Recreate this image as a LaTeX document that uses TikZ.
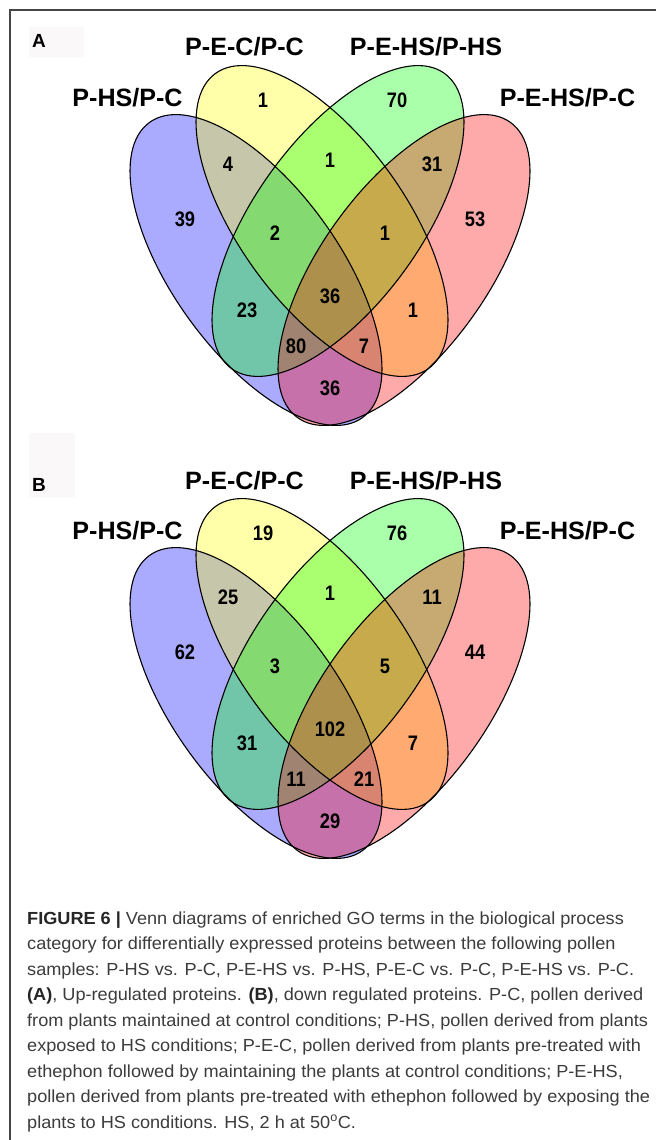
\documentclass[tikz,border=0pt]{standalone}
\usepackage{fontspec}
\setmainfont{Liberation Sans}
\usepackage{graphicx}

\definecolor{setblue}{RGB}{0,0,255}
\definecolor{setyellow}{RGB}{255,255,0}
\definecolor{setgreen}{RGB}{0,255,0}
\definecolor{setred}{RGB}{255,0,0}
\definecolor{framegray}{RGB}{70,70,70}
\definecolor{tagbg}{RGB}{250,248,248}
\definecolor{captext}{RGB}{60,60,60}

% caption lines are scaled so that the longest one spans 623pt
\newlength\capwd
\AtBeginDocument{%
  \settowidth\capwd{\fontsize{17.5}{21}\selectfont pollen derived from plants pre-treated with ethephon followed by exposing the}%
  \pgfmathsetmacro\capfac{623/\capwd}%
}

\tikzset{
  setfill/.style={fill=#1, fill opacity=0.333},
  setline/.style={draw=black, line width=1.1pt},
  setlab/.style={anchor=base, inner sep=0pt, font=\bfseries\fontsize{25.1}{30}\selectfont},
  count/.style={inner sep=0pt, font=\bfseries\fontsize{21}{25}\selectfont},
  tag/.style={anchor=base west, inner sep=0pt, font=\bfseries\fontsize{19}{23}\selectfont},
  capline/.style={anchor=base west, inner sep=0pt, text=captext, font=\fontsize{17.5}{21}\selectfont},
  % four-set Venn diagram: ellipses, outlines and set names
  vennsets/.pic={
    \path[setfill=setblue,   rotate around={-54.2:(256,270)}] (256,270) ellipse [x radius=182pt, y radius=83pt];
    \path[setfill=setyellow, rotate around={-54.2:(322,221)}] (322,221) ellipse [x radius=182pt, y radius=83pt];
    \path[setfill=setgreen,  rotate around={54.2:(338,221)}]  (338,221) ellipse [x radius=182pt, y radius=83pt];
    \path[setfill=setred,    rotate around={54.2:(404,270)}]  (404,270) ellipse [x radius=182pt, y radius=83pt];
    \draw[setline, rotate around={-54.2:(256,270)}] (256,270) ellipse [x radius=182pt, y radius=83pt];
    \draw[setline, rotate around={-54.2:(322,221)}] (322,221) ellipse [x radius=182pt, y radius=83pt];
    \draw[setline, rotate around={54.2:(338,221)}]  (338,221) ellipse [x radius=182pt, y radius=83pt];
    \draw[setline, rotate around={54.2:(404,270)}]  (404,270) ellipse [x radius=182pt, y radius=83pt];
    \node[setlab] (-phs)   at (127.5,106) {P-HS/P-C};
    \node[setlab] (-pec)   at (244.5,56)  {P-E-C/P-C};
    \node[setlab] (-pehs)  at (426,56)    {P-E-HS/P-HS};
    \node[setlab] (-pehsc) at (567.5,106) {P-E-HS/P-C};
  }
}

\begin{document}
\begin{tikzpicture}[x=1pt,y=-1pt]
\useasboundingbox (0,0) rectangle (656,1140);
\fill[white] (0,0) rectangle (656,1140);

% frame
\draw[framegray, line width=1.3pt] (656,10) -- (10,10) -- (10,1140);

% panel A
\fill[tagbg] (29,27) rectangle (84,57);
\node[tag] (tagA) at (32,47.5) {A};
\pic (A) at (0,0) {vennsets};
\foreach \n/\x/\y/\v in {y/263/100/1, g/397/100/70, by/228/164/4, gp/432/164/31,
    yg/330/160/1, b/185/219/39, p/475/219/53, byg/275/233/2, ygp/385/233/1,
    all/330/296/36, bg/247/310/23, yp/413/310/1, bgp/296/346/80, byp/364/346/7,
    bp/330/388/36}
  \node[count] (A-\n) at (\x,\y) {\scalebox{0.87}[1]{\v}};

% panel B
\fill[tagbg] (29,433) rectangle (75,497);
\node[tag] (tagB) at (32,491) {B};
\pic (B) at (0,433) {vennsets};
\foreach \n/\x/\y/\v in {y/263/100/19, g/397/100/76, by/228/164/25, gp/432/164/11,
    yg/330/160/1, b/185/219/62, p/475/219/44, byg/275/233/3, ygp/385/233/5,
    all/330/296/102, bg/247/310/31, yp/413/310/7, bgp/296/346/11, byp/364/346/21,
    bp/330/388/29}
  \node[count] (B-\n) at (\x,\y+433) {\scalebox{0.87}[1]{\v}};

% caption
\node[capline] (cap1) at (27,924)   {\scalebox{\capfac}[1]{{\bfseries\color{black!85}FIGURE 6 |} Venn diagrams of enriched GO terms in the biological process}};
\node[capline] (cap2) at (27,949.5) {\scalebox{\capfac}[1]{category for differentially expressed proteins between the following pollen}};
\node[capline] (cap3) at (27,975)   {\scalebox{\capfac}[1]{samples: P-HS vs. P-C, P-E-HS vs. P-HS, P-E-C vs. P-C, P-E-HS vs. P-C.}};
\node[capline] (cap4) at (27,1000.5){\scalebox{\capfac}[1]{{\bfseries\color{black!85}(A)}, Up-regulated proteins. {\bfseries\color{black!85}(B)}, down regulated proteins. P-C, pollen derived}};
\node[capline] (cap5) at (27,1026)  {\scalebox{\capfac}[1]{from plants maintained at control conditions; P-HS, pollen derived from plants}};
\node[capline] (cap6) at (27,1051.5){\scalebox{\capfac}[1]{exposed to HS conditions; P-E-C, pollen derived from plants pre-treated with}};
\node[capline] (cap7) at (27,1077)  {\scalebox{\capfac}[1]{ethephon followed by maintaining the plants at control conditions; P-E-HS,}};
\node[capline] (cap8) at (27,1102.5){\scalebox{\capfac}[1]{pollen derived from plants pre-treated with ethephon followed by exposing the}};
\node[capline] (cap9) at (27,1128)  {\scalebox{\capfac}[1]{plants to HS conditions. HS, 2 h at 50\textsuperscript{o}C.}};
\end{tikzpicture}
\end{document}
